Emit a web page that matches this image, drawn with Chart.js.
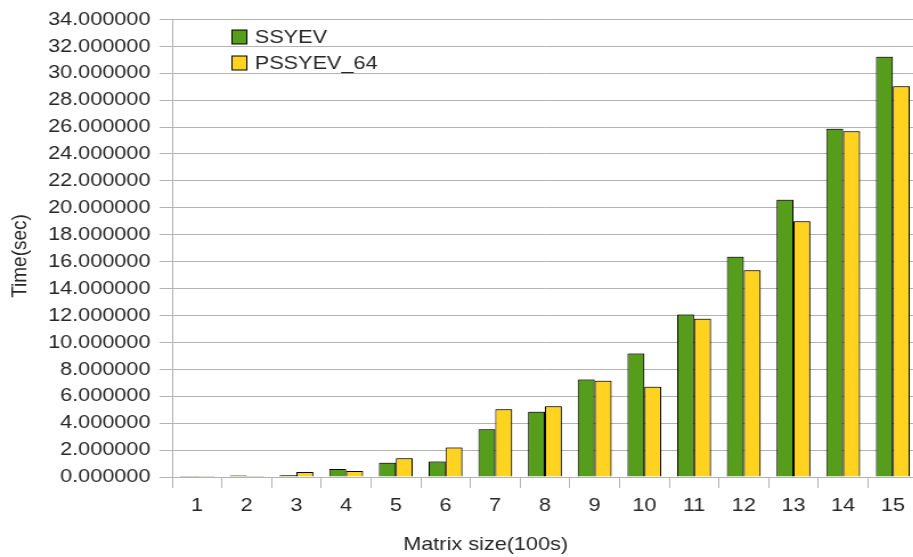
<!DOCTYPE html>
<html>
<head>
<meta charset="utf-8">
<script src="https://cdn.jsdelivr.net/npm/chart.js@4/dist/chart.umd.min.js"></script>
<style>
html,body{margin:0;padding:0;background:#fff;overflow:hidden;width:913px;height:557px;}
#wrap{width:815px;height:557px;position:relative;transform:scaleX(1.14);transform-origin:0 0;}
</style>
</head>
<body>
<div id="wrap"><canvas id="c"></canvas></div>
<script>
const categories = ["1","2","3","4","5","6","7","8","9","10","11","12","13","14","15"];
const ssyev    = [0.03, 0.12, 0.13, 0.60, 1.06, 1.16, 3.54, 4.85, 7.25, 9.18, 12.08, 16.36, 20.60, 25.88, 31.23];
const pssyev64 = [0.02, 0.05, 0.37, 0.45, 1.39, 2.20, 5.03, 5.25, 7.15, 6.70, 11.75, 15.37, 19.00, 25.69, 29.03];
const seriesNames = ["SSYEV", "PSSYEV_64"];
const xTitle = "Matrix size(100s)";
const yTitle = "Time(sec)";
const yTickMax = 34, yTickStep = 2;

const FONT = "'Liberation Sans', Arial, sans-serif";
const TEXT = '#262626';
const GREEN = '#579d1c', YELLOW = '#ffd320';

const decorPlugin = {
  id: 'decor',
  beforeDatasetsDraw(chart) {
    const ctx = chart.ctx;
    ctx.save();
    ctx.shadowColor = 'rgba(0,0,0,0.35)';
    ctx.shadowBlur = 0;
    ctx.shadowOffsetX = 1;
    ctx.shadowOffsetY = -1;
  },
  afterDatasetsDraw(chart) {
    chart.ctx.restore();
  },
  afterDraw(chart) {
    const ctx = chart.ctx;
    ctx.save();
    ctx.font = '19px ' + FONT;
    ctx.textBaseline = 'middle';
    const items = [[seriesNames[0], GREEN, 37], [seriesNames[1], YELLOW, 63]];
    items.forEach(([t, col, y]) => {
      ctx.fillStyle = col;
      ctx.fillRect(203.5, y - 7, 13, 14);
      ctx.strokeStyle = '#000';
      ctx.lineWidth = 1;
      ctx.strokeRect(203.5, y - 7, 13, 14);
      ctx.fillStyle = TEXT;
      ctx.textAlign = 'left';
      ctx.fillText(t, 223.5, y + 1);
    });
    ctx.textAlign = 'center';
    ctx.fillText(xTitle, 426, 545);
    ctx.translate(17.5, 256);
    ctx.rotate(-Math.PI / 2);
    ctx.fillText(yTitle, 0, 0);
    ctx.restore();
  }
};

new Chart(document.getElementById('c'), {
  type: 'bar',
  data: {
    labels: categories,
    datasets: [
      { label: seriesNames[0], data: ssyev, backgroundColor: GREEN, borderColor: '#000', borderWidth: 1, minBarLength: 1 },
      { label: seriesNames[1], data: pssyev64, backgroundColor: YELLOW, borderColor: '#000', borderWidth: 1, minBarLength: 1 }
    ]
  },
  options: {
    responsive: true,
    maintainAspectRatio: false,
    animation: false,
    layout: { padding: { top: 19, right: 10, left: 0, bottom: 0 } },
    datasets: { bar: { categoryPercentage: 0.68, barPercentage: 1.0 } },
    plugins: { legend: { display: false }, tooltip: { enabled: false } },
    scales: {
      x: {
        grid: { display: true, offset: true, drawOnChartArea: false, color: '#b3b3b3', tickLength: 11, lineWidth: 1 },
        border: { color: '#b3b3b3' },
        ticks: { color: TEXT, font: { family: FONT, size: 19 }, padding: 6, maxRotation: 0, autoSkip: false },
        afterFit: s => { s.height = 80; }
      },
      y: {
        min: 0, max: yTickMax,
        grid: { color: '#b3b3b3', tickLength: 11, lineWidth: 1 },
        border: { color: '#b3b3b3' },
        ticks: { stepSize: yTickStep, color: TEXT, font: { family: FONT, size: 19 }, padding: 8,
                 callback: v => Number(v).toFixed(6) },
        afterFit: s => { s.width = 151; }
      }
    }
  },
  plugins: [decorPlugin]
});
</script>
</body>
</html>
